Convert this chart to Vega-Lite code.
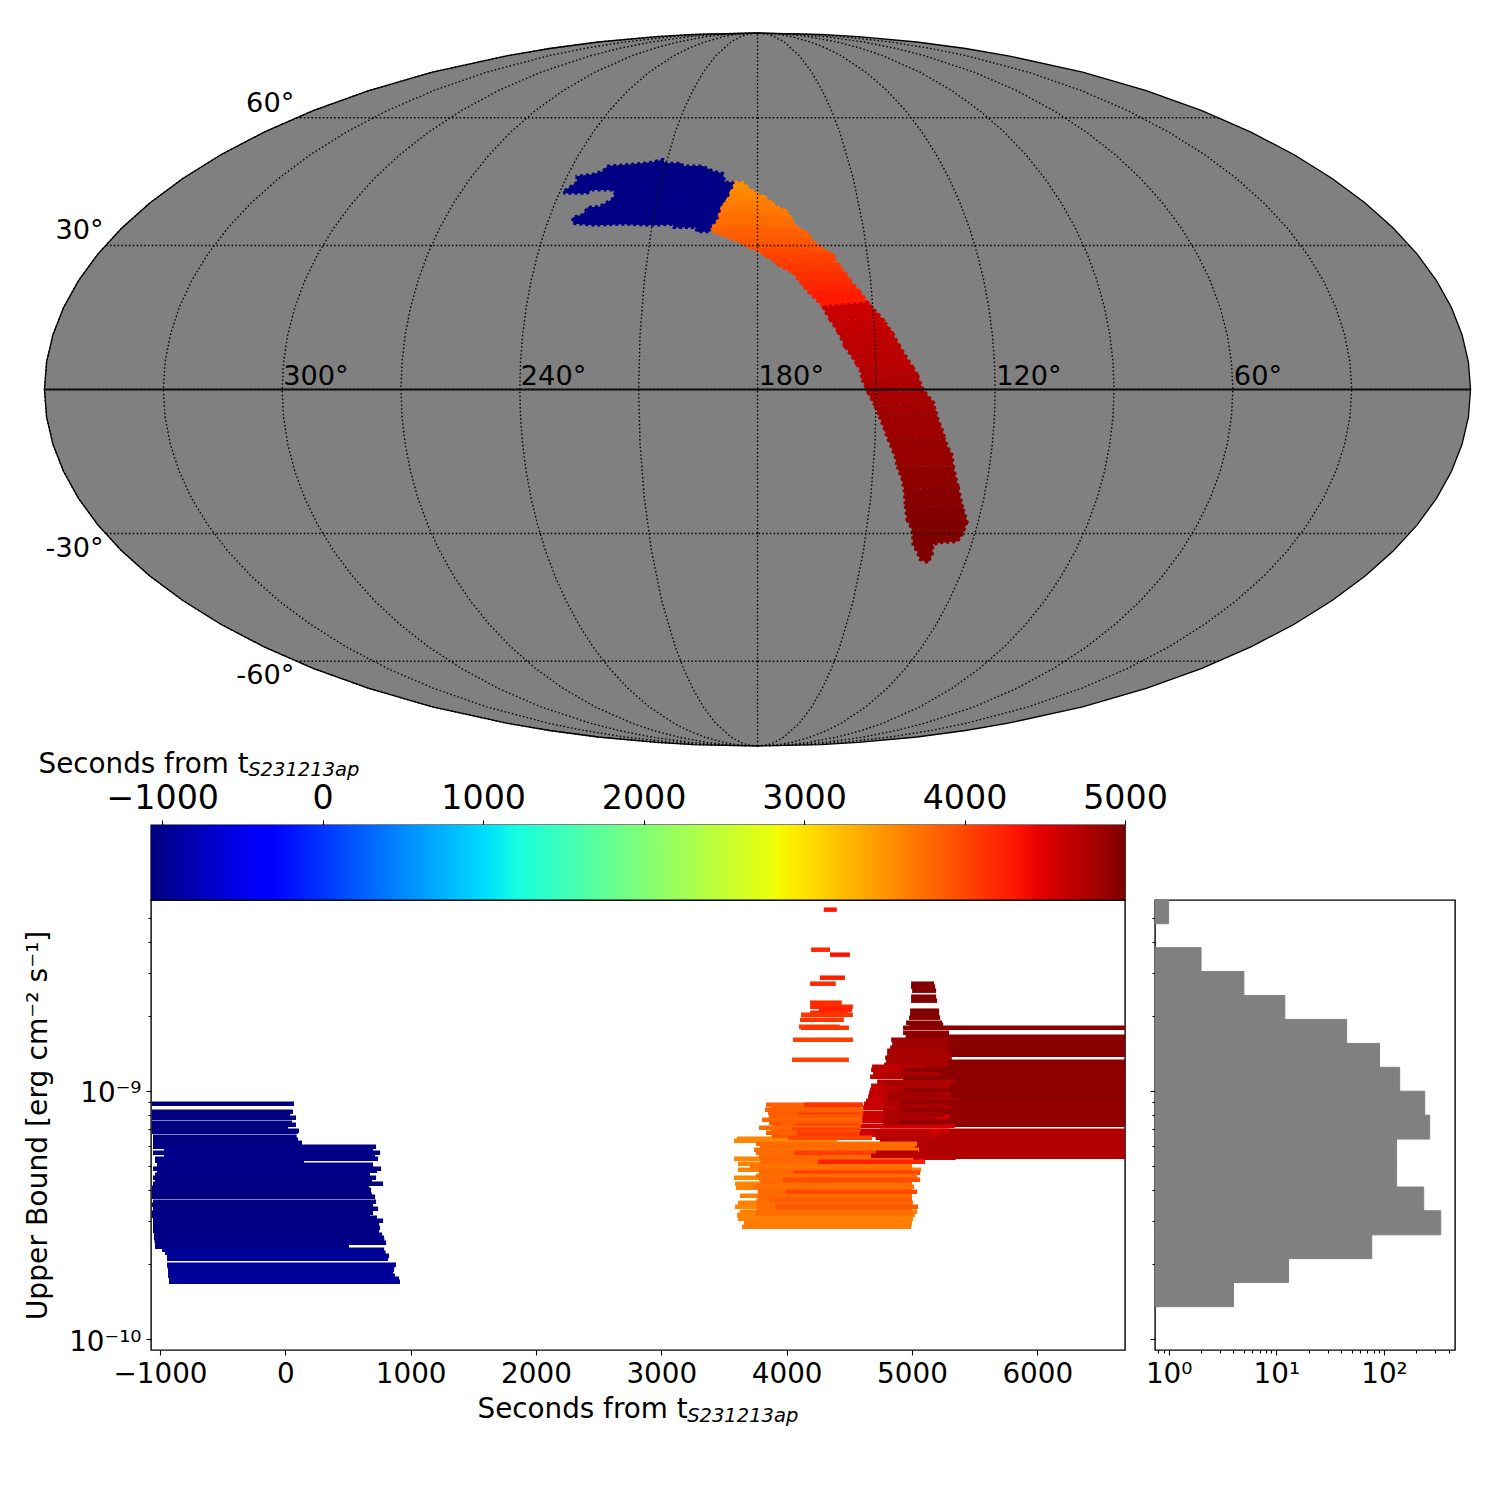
{"$schema":"https://vega.github.io/schema/vega-lite/v6.json","padding":0,"background":"white","bounds":"flush","spacing":0,
"config":{"font":"DejaVu Sans","view":{"stroke":"black","strokeWidth":1.4},"axis":{"grid":false,"domain":false,"tickColor":"black","tickWidth":1.1,"labelColor":"black","titleColor":"black","labelFont":"DejaVu Sans","titleFont":"DejaVu Sans","labelFontSize":27.8,"titleFontSize":27.8,"titleFontWeight":"normal","labelBound":false,"labelFlush":false,"labelOverlap":false,"tickSize":5,"labelPadding":5}},
"vconcat":[
{"width":1500,"height":825,"view":{"stroke":null},
"projection":{"type":"mollweide","scale":252.1,"translate":[757.5,389.5],"rotate":[180,0,0],"reflectX":true},
"layer":[
{"data":{"sphere":true},"mark":{"type":"geoshape","fill":"#808080","stroke":"black","strokeWidth":1.3},"encoding":{}},
{"data":{"values":[
{"type":"Feature","properties":{"seconds":-1050},"geometry":{"type":"Polygon","coordinates":[[[238.8,42.1],[238.3,41.6],[231.6,41.6],[230.4,42.3],[224.0,42.3],[223.0,41.4],[223.4,40.2],[226.4,38.6],[229.8,38.4],[230.6,36.8],[233.2,36.2],[232.7,34.8],[226.2,34.4],[210.6,34.4],[204.1,34.6],[203.7,33.9],[197.4,33.9],[197.1,33.0],[193.4,33.0],[192.9,33.9],[191.3,35.5],[190.4,38.4],[188.8,40.2],[187.0,43.6],[187.3,44.1],[190.1,44.1],[191.0,46.2],[194.2,46.7],[197.7,47.9],[204.2,47.9],[204.7,48.6],[210.2,48.6],[211.2,49.5],[214.6,48.8],[221.6,48.3],[228.5,47.9],[229.4,46.7],[232.1,46.0],[236.9,45.5],[236.0,44.1],[238.8,42.1]]]}},
{"type":"Feature","properties":{"seconds":3545},"geometry":{"type":"Polygon","coordinates":[[[187.0,43.65],[187.9,41.9],[182.3,42.5],[184.5,44.1],[187.0,44.1],[187.0,43.65]]]}},
{"type":"Feature","properties":{"seconds":3585},"geometry":{"type":"Polygon","coordinates":[[[187.9,41.9],[188.8,40.2],[178.35,40.9],[182.3,42.5],[187.9,41.9]]]}},
{"type":"Feature","properties":{"seconds":3615},"geometry":{"type":"Polygon","coordinates":[[[188.8,40.2],[189.6,39.3],[176.3,39.75],[178.35,40.9],[188.8,40.2]]]}},
{"type":"Feature","properties":{"seconds":3650},"geometry":{"type":"Polygon","coordinates":[[[189.6,39.3],[190.4,38.4],[171.39,37.5],[174.26,38.6],[176.3,39.75],[189.6,39.3]]]}},
{"type":"Feature","properties":{"seconds":3690},"geometry":{"type":"Polygon","coordinates":[[[190.4,38.4],[190.9,36.9],[170.4,36.05],[171.39,37.5],[190.4,38.4]]]}},
{"type":"Feature","properties":{"seconds":3750},"geometry":{"type":"Polygon","coordinates":[[[190.9,36.9],[191.3,35.5],[192.9,33.9],[167.98,33.5],[169.33,34.6],[170.4,36.05],[190.9,36.9]]]}},
{"type":"Feature","properties":{"seconds":3795},"geometry":{"type":"Polygon","coordinates":[[[192.9,33.9],[192.53,32.85],[166.07,32.85],[167.98,33.5],[192.9,33.9]]]}},
{"type":"Feature","properties":{"seconds":3850},"geometry":{"type":"Polygon","coordinates":[[[192.53,32.85],[186.82,31.3],[164.83,31.3],[166.07,32.85],[192.53,32.85]]]}},
{"type":"Feature","properties":{"seconds":3895},"geometry":{"type":"Polygon","coordinates":[[[186.82,31.3],[182.07,29.6],[162.5,29.6],[163.54,30.2],[164.83,31.3],[186.82,31.3]]]}},
{"type":"Feature","properties":{"seconds":3945},"geometry":{"type":"Polygon","coordinates":[[[182.07,29.6],[180.41,28.95],[160.19,28.3],[162.5,29.6],[182.07,29.6]]]}},
{"type":"Feature","properties":{"seconds":3995},"geometry":{"type":"Polygon","coordinates":[[[180.41,28.95],[177.41,27.65],[158.9,27.65],[160.19,28.3],[180.41,28.95]]]}},
{"type":"Feature","properties":{"seconds":4045},"geometry":{"type":"Polygon","coordinates":[[[177.41,27.65],[174.47,25.95],[158.28,25.95],[159.05,26.4],[158.9,27.65],[177.41,27.65]]]}},
{"type":"Feature","properties":{"seconds":4090},"geometry":{"type":"Polygon","coordinates":[[[174.47,25.95],[173.94,25.5],[170.5,24.2],[156.7,24.2],[158.28,25.95],[174.47,25.95]]]}},
{"type":"Feature","properties":{"seconds":4150},"geometry":{"type":"Polygon","coordinates":[[[170.5,24.2],[168.75,22.15],[154.98,22.15],[156.7,24.2],[170.5,24.2]]]}},
{"type":"Feature","properties":{"seconds":4215},"geometry":{"type":"Polygon","coordinates":[[[168.75,22.15],[167.98,21.35],[166.7,20.2],[153,20],[154.98,22.15],[168.75,22.15]]]}},
{"type":"Feature","properties":{"seconds":4290},"geometry":{"type":"Polygon","coordinates":[[[166.7,20.2],[165.48,19.15],[163.01,17.05],[151.23,17.9],[153,20],[166.7,20.2]]]}},
{"type":"Feature","properties":{"seconds":4610},"geometry":{"type":"Polygon","coordinates":[[[163.01,17.05],[162.77,16.45],[161.34,14.4],[147.7,14.4],[151.23,17.9],[163.01,17.05]]]}},
{"type":"Feature","properties":{"seconds":4640},"geometry":{"type":"Polygon","coordinates":[[[161.34,14.4],[159.4,11.8],[145.6,11.8],[147.7,14.4],[161.34,14.4]]]}},
{"type":"Feature","properties":{"seconds":4670},"geometry":{"type":"Polygon","coordinates":[[[159.4,11.8],[157.73,8.75],[143.73,8.75],[145.6,11.8],[159.4,11.8]]]}},
{"type":"Feature","properties":{"seconds":4695},"geometry":{"type":"Polygon","coordinates":[[[157.73,8.75],[156.03,6.7],[154.9,5.2],[140.6,4.4],[141.85,6.1],[143.03,7.7],[143.73,8.75],[157.73,8.75]]]}},
{"type":"Feature","properties":{"seconds":4725},"geometry":{"type":"Polygon","coordinates":[[[154.9,5.2],[154.06,4.05],[153.59,2],[139.66,3.05],[140.6,4.4],[154.9,5.2]]]}},
{"type":"Feature","properties":{"seconds":4755},"geometry":{"type":"Polygon","coordinates":[[[153.59,2],[152.1,-0.6],[137.9,-0.3],[138.21,0],[139.66,3.05],[153.59,2]]]}},
{"type":"Feature","properties":{"seconds":4790},"geometry":{"type":"Polygon","coordinates":[[[152.1,-0.6],[150.28,-3.45],[135.63,-2.6],[137.9,-0.3],[152.1,-0.6]]]}},
{"type":"Feature","properties":{"seconds":4820},"geometry":{"type":"Polygon","coordinates":[[[150.28,-3.45],[149.2,-5.5],[134.75,-4.8],[135.63,-2.6],[150.28,-3.45]]]}},
{"type":"Feature","properties":{"seconds":4850},"geometry":{"type":"Polygon","coordinates":[[[149.2,-5.5],[148.11,-7.55],[146.71,-10.2],[132.17,-10.2],[132.77,-8.8],[134.24,-6.1],[134.75,-4.8],[149.2,-5.5]]]}},
{"type":"Feature","properties":{"seconds":4885},"geometry":{"type":"Polygon","coordinates":[[[146.71,-10.2],[144.63,-13.8],[143.87,-15.85],[129.37,-15.85],[130.05,-13.35],[131.49,-11.65],[132.17,-10.2],[146.71,-10.2]]]}},
{"type":"Feature","properties":{"seconds":4925},"geometry":{"type":"Polygon","coordinates":[[[143.87,-15.85],[142.3,-18.5],[141.47,-20.6],[127.37,-20],[129.37,-15.85],[143.87,-15.85]]]}},
{"type":"Feature","properties":{"seconds":4960},"geometry":{"type":"Polygon","coordinates":[[[141.47,-20.6],[140.54,-24.1],[125.3,-24.1],[127.37,-20],[141.47,-20.6]]]}},
{"type":"Feature","properties":{"seconds":4985},"geometry":{"type":"Polygon","coordinates":[[[140.54,-24.1],[139.46,-27],[123.04,-27.4],[125.3,-24.1],[140.54,-24.1]]]}},
{"type":"Feature","properties":{"seconds":5000},"geometry":{"type":"Polygon","coordinates":[[[139.46,-27],[137.48,-29.3],[136.4,-32.4],[134.73,-34],[133.31,-35.7],[130.73,-36.4],[130.27,-34.6],[130.79,-32.4],[128.95,-32],[124.28,-31.75],[123.24,-30],[123.04,-27.4],[139.46,-27]]]}}
]},"mark":{"type":"geoshape","strokeWidth":3,"strokeDash":[3,3]},
"encoding":{"color":{"field":"properties.seconds","type":"quantitative","legend":null,"scale":{"domain":[-1070,-402,-311,994,1054.5,1206,2815,2875,2936,4332,4454,5000],"range":["#000080","#0000ff","#0000ff","#00dbff","#00e6f7","#15ffe2","#eeff08","#f7f600","#ffec00","#ff1300","#e80000","#800000"],"interpolate":"rgb","clamp":true}},
"stroke":{"field":"properties.seconds","type":"quantitative","legend":null,"scale":{"domain":[-1070,-402,-311,994,1054.5,1206,2815,2875,2936,4332,4454,5000],"range":["#000080","#0000ff","#0000ff","#00dbff","#00e6f7","#15ffe2","#eeff08","#f7f600","#ffec00","#ff1300","#e80000","#800000"],"interpolate":"rgb","clamp":true}}}},
{"data":{"graticule":{"step":[30,30],"extent":[[-180,-90],[180,90]]}},"mark":{"type":"geoshape","filled":false,"stroke":"black","strokeWidth":1.4,"strokeDash":[1.5,2.3]},"encoding":{}},
{"data":{"values":[{"type":"Feature","properties":{"name":"equator"},"geometry":{"type":"LineString","coordinates":[[0.01,0],[60,0],[120,0],[180,0],[240,0],[300,0],[359.99,0]]}}]},"mark":{"type":"geoshape","filled":false,"stroke":"#111111","strokeWidth":1.8},"encoding":{}},
{"data":{"values":[{"label":"300°","lon":300,"lat":0},{"label":"240°","lon":240,"lat":0},{"label":"180°","lon":180,"lat":0},{"label":"120°","lon":120,"lat":0},{"label":"60°","lon":60,"lat":0}]},"mark":{"type":"text","align":"left","baseline":"alphabetic","dx":1,"dy":-5,"fontSize":27.2,"font":"DejaVu Sans","color":"black"},"encoding":{"longitude":{"field":"lon","type":"quantitative"},"latitude":{"field":"lat","type":"quantitative"},"text":{"field":"label"}}},
{"data":{"values":[{"label":"60°","lon":359.9,"lat":60},{"label":"30°","lon":359.9,"lat":30}]},"mark":{"type":"text","align":"right","baseline":"middle","dx":-2,"dy":-14,"fontSize":27.2,"font":"DejaVu Sans","color":"black"},"encoding":{"longitude":{"field":"lon","type":"quantitative"},"latitude":{"field":"lat","type":"quantitative"},"text":{"field":"label"}}},
{"data":{"values":[{"label":"-30°","lon":359.9,"lat":-30},{"label":"-60°","lon":359.9,"lat":-60}]},"mark":{"type":"text","align":"right","baseline":"middle","dx":-2,"dy":15,"fontSize":27.2,"font":"DejaVu Sans","color":"black"},"encoding":{"longitude":{"field":"lon","type":"quantitative"},"latitude":{"field":"lat","type":"quantitative"},"text":{"field":"label"}}}
]},
{"bounds":"flush","spacing":0,"hconcat":[
{"width":151,"height":10,"view":{"stroke":null},"data":{"values":[{"a":1}]},"mark":{"type":"rect","opacity":0},"encoding":{}},
{"bounds":"flush","spacing":1004,"hconcat":[
{"bounds":"flush","spacing":0,"vconcat":[
{"width":974,"height":75,
"layer":[
{"data":{"values":[{"low":-1070,"high":5000}]},"mark":{"type":"rect","color":{"gradient":"linear","x1":0,"y1":0,"x2":1,"y2":0,"stops":[{"offset":0,"color":"#000080"},{"offset":0.11,"color":"#0000ff"},{"offset":0.125,"color":"#0000ff"},{"offset":0.34,"color":"#00dbff"},{"offset":0.35,"color":"#00e6f7"},{"offset":0.375,"color":"#15ffe2"},{"offset":0.64,"color":"#eeff08"},{"offset":0.65,"color":"#f7f600"},{"offset":0.66,"color":"#ffec00"},{"offset":0.89,"color":"#ff1300"},{"offset":0.91,"color":"#e80000"},{"offset":1,"color":"#800000"}]}},
"encoding":{"x":{"field":"low","type":"quantitative","scale":{"domain":[-1070,5000],"nice":false,"zero":false},"axis":{"orient":"top","values":[-1000,0,1000,2000,3000,4000,5000],"labelFontSize":33.3,"format":"d","title":"Seconds from t","titleX":-113,"titleY":-53,"titleAlign":"left","titleAnchor":"start","titleBaseline":"alphabetic"}},"x2":{"field":"high"}}},
{"data":{"values":[{"label":"S231213ap","t":-464,"pos":1.66}]},"mark":{"type":"text","align":"left","baseline":"alphabetic","fontStyle":"italic","fontSize":19.5,"font":"DejaVu Sans","color":"black","clip":false},"encoding":{"x":{"field":"t","type":"quantitative"},"y":{"field":"pos","type":"quantitative","scale":{"domain":[0,1],"nice":false,"zero":false},"axis":null},"text":{"field":"label"}}}
]},
{"width":974,"height":450,
"layer":[
{"data":{"values":[
{"start":-1064,"end":69,"ub":8.888e-10},{"start":-1064,"end":61,"ub":8.251e-10},{"start":-1064,"end":38,"ub":8.025e-10},{"start":-1064,"end":85,"ub":7.804e-10},{"start":-1064,"end":53,"ub":7.451e-10},{"start":-1064,"end":85,"ub":7.313e-10},{"start":-1064,"end":22,"ub":7.112e-10},{"start":-1064,"end":109,"ub":6.917e-10},{"start":-1064,"end":100,"ub":6.853e-10},{"start":-1056,"end":90,"ub":6.542e-10},{"start":-1056,"end":77,"ub":6.482e-10},{"start":-1056,"end":101,"ub":6.363e-10},{"start":-1056,"end":133,"ub":6.188e-10},{"start":-1056,"end":724,"ub":5.962e-10},{"start":-968,"end":700,"ub":5.745e-10},{"start":-1056,"end":756,"ub":5.639e-10},{"start":-968,"end":716,"ub":5.434e-10},{"start":-1040,"end":740,"ub":5.333e-10},{"start":-1040,"end":149,"ub":5.235e-10},{"start":-1024,"end":700,"ub":5.045e-10},{"start":-1056,"end":764,"ub":4.861e-10},{"start":-1024,"end":732,"ub":4.771e-10},{"start":-1040,"end":676,"ub":4.597e-10},{"start":-1056,"end":724,"ub":4.471e-10},{"start":-1040,"end":692,"ub":4.348e-10},{"start":-1056,"end":780,"ub":4.228e-10},{"start":-1064,"end":668,"ub":4.074e-10},{"start":-1048,"end":684,"ub":4.000e-10},{"start":-1064,"end":684,"ub":3.926e-10},{"start":-1064,"end":690,"ub":3.818e-10},{"start":-1064,"end":716,"ub":3.748e-10},{"start":-1056,"end":724,"ub":3.578e-10},{"start":-1064,"end":700,"ub":3.479e-10},{"start":-1056,"end":740,"ub":3.353e-10},{"start":-1064,"end":700,"ub":3.230e-10},{"start":-1064,"end":676,"ub":3.142e-10},{"start":-1056,"end":732,"ub":3.084e-10},{"start":-1056,"end":780,"ub":2.999e-10},{"start":-1056,"end":748,"ub":2.890e-10},{"start":-1056,"end":756,"ub":2.810e-10},{"start":-1056,"end":748,"ub":2.733e-10},{"start":-1048,"end":772,"ub":2.633e-10},{"start":-1048,"end":788,"ub":2.561e-10},{"start":-1044,"end":790,"ub":2.491e-10},{"start":-1040,"end":804,"ub":2.445e-10},{"start":-1040,"end":508,"ub":2.356e-10},{"start":-984,"end":788,"ub":2.291e-10},{"start":-960,"end":800,"ub":2.228e-10},{"start":-944,"end":828,"ub":2.167e-10},{"start":-944,"end":820,"ub":2.108e-10},{"start":-944,"end":883,"ub":1.993e-10},{"start":-940,"end":870,"ub":1.957e-10},{"start":-936,"end":867,"ub":1.903e-10},{"start":-936,"end":860,"ub":1.851e-10},{"start":-936,"end":875,"ub":1.800e-10},{"start":-928,"end":907,"ub":1.750e-10},{"start":-928,"end":915,"ub":1.702e-10},
{"start":4929,"end":7000,"ub":1.800e-9},{"start":4929,"end":5296,"ub":1.718e-9},{"start":4950,"end":7000,"ub":1.656e-9},{"start":4950,"end":7000,"ub":1.610e-9},{"start":4950,"end":7000,"ub":1.551e-9},{"start":4950,"end":7000,"ub":1.495e-9},{"start":4950,"end":7000,"ub":1.440e-9},{"start":4950,"end":7000,"ub":1.401e-9},{"start":4930,"end":7000,"ub":1.313e-9},{"start":4930,"end":7000,"ub":1.265e-9},{"start":4930,"end":7000,"ub":1.174e-9},{"start":4930,"end":7000,"ub":1.090e-9},{"start":4930,"end":7000,"ub":1.050e-9},{"start":4930,"end":7000,"ub":9.752e-10},{"start":4930,"end":7000,"ub":9.397e-10},{"start":4900,"end":7000,"ub":8.725e-10},{"start":4900,"end":7000,"ub":8.099e-10},{"start":4900,"end":7000,"ub":7.804e-10},{"start":4900,"end":7000,"ub":7.313e-10},{"start":4745,"end":7000,"ub":6.917e-10},{"start":4745,"end":7000,"ub":6.664e-10},{"start":4745,"end":7000,"ub":6.422e-10},{"start":4745,"end":7000,"ub":6.188e-10},{"start":4745,"end":7000,"ub":5.962e-10},{"start":4745,"end":7000,"ub":5.745e-10},{"start":4745,"end":7000,"ub":5.535e-10},{"start":4745,"end":7000,"ub":5.434e-10},
{"start":4834,"end":5287,"ub":1.610e-9},{"start":4842,"end":5303,"ub":1.551e-9},{"start":4826,"end":5287,"ub":1.495e-9},{"start":4802,"end":5271,"ub":1.454e-9},{"start":4802,"end":5303,"ub":1.401e-9},{"start":4786,"end":5318,"ub":1.362e-9},{"start":4794,"end":5287,"ub":1.313e-9},{"start":4778,"end":5287,"ub":1.277e-9},{"start":4682,"end":5100,"ub":1.253e-9},{"start":4674,"end":4985,"ub":1.219e-9},{"start":4690,"end":5200,"ub":1.185e-9},{"start":4666,"end":5225,"ub":1.142e-9},{"start":4722,"end":5342,"ub":1.090e-9},{"start":4674,"end":5303,"ub":1.050e-9},{"start":4666,"end":5265,"ub":1.012e-9},{"start":4658,"end":5303,"ub":9.843e-10},{"start":4650,"end":5145,"ub":9.484e-10},{"start":4634,"end":5382,"ub":9.139e-10},{"start":4618,"end":5225,"ub":8.888e-10},{"start":4610,"end":5303,"ub":8.564e-10},{"start":4610,"end":5100,"ub":8.175e-10},{"start":4594,"end":5303,"ub":7.877e-10},{"start":4586,"end":5145,"ub":7.589e-10},{"start":4578,"end":5342,"ub":7.246e-10},{"start":4578,"end":5300,"ub":6.917e-10},{"start":4570,"end":5200,"ub":6.664e-10},{"start":4700,"end":5350,"ub":5.383e-10},
{"start":4780,"end":5230,"ub":1.163e-9},{"start":4790,"end":5260,"ub":1.070e-9},{"start":4800,"end":5220,"ub":9.935e-10},{"start":4810,"end":5280,"ub":9.573e-10},{"start":4790,"end":5200,"ub":9.224e-10},{"start":4780,"end":5240,"ub":8.806e-10},{"start":4770,"end":5200,"ub":8.329e-10},{"start":4790,"end":5260,"ub":8.025e-10},{"start":4760,"end":5200,"ub":7.732e-10},{"start":4770,"end":5230,"ub":7.451e-10},{"start":4700,"end":5150,"ub":6.790e-10},{"start":4710,"end":5180,"ub":6.482e-10},
{"start":4930,"end":7000,"ub":1.219e-9},{"start":4930,"end":7000,"ub":1.131e-9},{"start":4930,"end":7000,"ub":1.012e-9},{"start":4900,"end":7000,"ub":9.055e-10},{"start":4900,"end":7000,"ub":8.406e-10},{"start":4900,"end":7000,"ub":7.520e-10},
{"start":4993,"end":5177,"ub":2.708e-9},{"start":4993,"end":5185,"ub":2.634e-9},{"start":5001,"end":5193,"ub":2.538e-9},{"start":4993,"end":5193,"ub":2.400e-9},{"start":4993,"end":5201,"ub":2.313e-9},{"start":4985,"end":5217,"ub":2.108e-9},{"start":4985,"end":5217,"ub":2.031e-9},{"start":4977,"end":5225,"ub":1.975e-9},{"start":4953,"end":5241,"ub":1.885e-9},{"start":4977,"end":5249,"ub":1.851e-9},
{"start":3604,"end":4400,"ub":6.422e-10},{"start":3580,"end":4400,"ub":6.304e-10},{"start":3580,"end":5009,"ub":5.333e-10},{"start":3612,"end":4400,"ub":5.091e-10},{"start":3612,"end":5073,"ub":4.816e-10},{"start":3580,"end":4600,"ub":4.471e-10},{"start":3588,"end":4600,"ub":4.228e-10},{"start":3596,"end":4600,"ub":4.074e-10},{"start":3628,"end":4977,"ub":3.783e-10},{"start":3612,"end":5009,"ub":3.545e-10},{"start":3588,"end":3900,"ub":3.416e-10},{"start":3628,"end":5041,"ub":3.261e-10},{"start":3604,"end":5025,"ub":3.171e-10},
{"start":3880,"end":4600,"ub":8.564e-10},{"start":3880,"end":4600,"ub":8.251e-10},{"start":3880,"end":4600,"ub":7.951e-10},{"start":3880,"end":4600,"ub":7.732e-10},{"start":3880,"end":4600,"ub":7.520e-10},{"start":3880,"end":4590,"ub":7.313e-10},{"start":3880,"end":4590,"ub":7.047e-10},{"start":3880,"end":4580,"ub":6.853e-10},{"start":3880,"end":4580,"ub":6.603e-10},
{"start":3800,"end":5000,"ub":6.018e-10},{"start":3790,"end":5000,"ub":5.692e-10},{"start":3780,"end":5000,"ub":5.434e-10},{"start":3790,"end":5000,"ub":5.235e-10},{"start":3780,"end":5000,"ub":5.045e-10},{"start":3790,"end":5000,"ub":4.861e-10},{"start":3780,"end":5000,"ub":4.727e-10},{"start":3790,"end":5000,"ub":4.597e-10},{"start":3780,"end":5000,"ub":4.429e-10},{"start":3790,"end":5000,"ub":4.308e-10},{"start":3770,"end":5000,"ub":4.151e-10},{"start":3770,"end":5000,"ub":4.000e-10},{"start":3770,"end":5000,"ub":3.854e-10},{"start":3770,"end":5000,"ub":3.713e-10},{"start":3760,"end":5000,"ub":3.611e-10},{"start":3760,"end":5000,"ub":3.479e-10},{"start":3760,"end":5000,"ub":3.353e-10},{"start":3750,"end":5000,"ub":3.230e-10},{"start":3740,"end":5000,"ub":3.113e-10},{"start":3720,"end":5000,"ub":2.999e-10},{"start":3700,"end":4995,"ub":2.890e-10},
{"start":3836,"end":4602,"ub":8.806e-10},{"start":4139,"end":4610,"ub":8.806e-10},{"start":3828,"end":4610,"ub":8.406e-10},{"start":3852,"end":4610,"ub":8.175e-10},{"start":4091,"end":4610,"ub":8.025e-10},{"start":3860,"end":4602,"ub":7.877e-10},{"start":3804,"end":4602,"ub":7.661e-10},{"start":3860,"end":4602,"ub":7.451e-10},{"start":4075,"end":4578,"ub":7.246e-10},{"start":3780,"end":4586,"ub":7.112e-10},{"start":4043,"end":4586,"ub":6.982e-10},{"start":3836,"end":4570,"ub":6.790e-10},{"start":4083,"end":4570,"ub":6.727e-10},{"start":4011,"end":4682,"ub":6.482e-10},{"start":3756,"end":5041,"ub":6.130e-10},{"start":3788,"end":5025,"ub":5.906e-10},{"start":3740,"end":5057,"ub":5.798e-10},{"start":3756,"end":5041,"ub":5.639e-10},{"start":4059,"end":4714,"ub":5.639e-10},{"start":4714,"end":5049,"ub":5.639e-10},{"start":4674,"end":5049,"ub":5.484e-10},{"start":4251,"end":5105,"ub":5.187e-10},{"start":3708,"end":5001,"ub":4.952e-10},{"start":4051,"end":5065,"ub":4.683e-10},{"start":3756,"end":5041,"ub":4.555e-10},{"start":3971,"end":5065,"ub":4.389e-10},{"start":3732,"end":5017,"ub":4.112e-10},{"start":3995,"end":5041,"ub":3.926e-10},{"start":3860,"end":5001,"ub":3.645e-10},{"start":3908,"end":5049,"ub":3.416e-10},{"start":3612,"end":5009,"ub":3.055e-10},{"start":3660,"end":5001,"ub":2.944e-10},{"start":3644,"end":4993,"ub":2.837e-10},
{"start":4296,"end":4400,"ub":5.384e-9},{"start":4195,"end":4346,"ub":3.713e-9},{"start":4346,"end":4505,"ub":3.545e-9},{"start":4265,"end":4465,"ub":2.863e-9},{"start":4187,"end":4392,"ub":2.708e-9},{"start":4187,"end":4440,"ub":2.270e-9},{"start":4187,"end":4529,"ub":2.187e-9},{"start":4258,"end":4521,"ub":2.127e-9},{"start":4187,"end":4489,"ub":2.069e-9},{"start":4115,"end":4529,"ub":2.031e-9},{"start":4107,"end":4457,"ub":1.939e-9},{"start":4099,"end":4424,"ub":1.817e-9},{"start":4115,"end":4497,"ub":1.800e-9},{"start":4051,"end":4529,"ub":1.610e-9},{"start":4043,"end":4497,"ub":1.337e-9}
]},"mark":{"type":"rule","strokeWidth":4.5,"strokeCap":"butt","clip":true},
"encoding":{
"x":{"field":"start","type":"quantitative","scale":{"domain":[-1072,6700],"nice":false,"zero":false},"axis":{"values":[-1000,0,1000,2000,3000,4000,5000,6000],"format":"d","title":"Seconds from t","titleX":326,"titleY":67,"titleAlign":"left","titleAnchor":"start","titleBaseline":"alphabetic"}},
"x2":{"field":"end"},
"y":{"field":"ub","type":"quantitative","scale":{"type":"log","domain":[9.03e-11,5.89e-9],"nice":false},"axis":{"values":[1e-10,2e-10,3e-10,4e-10,5e-10,6e-10,7e-10,8e-10,9e-10,1e-9,2e-9,3e-9,4e-9,5e-9],"labelExpr":"datum.value==1e-9?'10⁻⁹':datum.value==1e-10?'10⁻¹⁰':''","labelOffset":3,"tickSize":{"condition":{"test":"datum.value==1e-9||datum.value==1e-10","value":5},"value":3},"title":"Upper Bound [erg cm⁻² s⁻¹]","titleFontSize":28.2,"titleX":-113,"titleY":225,"titleAngle":-90,"titleAlign":"center","titleBaseline":"middle"}},
"color":{"field":"start","type":"quantitative","legend":null,"scale":{"domain":[-1070,-402,-311,994,1054.5,1206,2815,2875,2936,4332,4454,5000],"range":["#000080","#0000ff","#0000ff","#00dbff","#00e6f7","#15ffe2","#eeff08","#f7f600","#ffec00","#ff1300","#e80000","#800000"],"interpolate":"rgb","clamp":true}}}},
{"data":{"values":[{"label":"S231213ap","t":3206,"pos":4.64e-11}]},"mark":{"type":"text","align":"left","baseline":"alphabetic","fontStyle":"italic","fontSize":19.5,"font":"DejaVu Sans","color":"black","clip":false},"encoding":{"x":{"field":"t","type":"quantitative"},"y":{"field":"pos","type":"quantitative"},"text":{"field":"label"}}}
]}
]},
{"bounds":"flush","spacing":0,"vconcat":[
{"width":300,"height":75,"view":{"stroke":null},"data":{"values":[{"a":1}]},"mark":{"type":"rect","opacity":0},"encoding":{}},
{"width":300,"height":450,
"data":{"values":[
{"low":4.727e-9,"high":5.903e-9,"count":1},{"low":3.031e-9,"high":3.785e-9,"count":2},{"low":2.427e-9,"high":3.031e-9,"count":5},{"low":1.944e-9,"high":2.427e-9,"count":12},{"low":1.556e-9,"high":1.944e-9,"count":45},{"low":1.246e-9,"high":1.556e-9,"count":91},{"low":9.98e-10,"high":1.246e-9,"count":140},{"low":7.99e-10,"high":9.98e-10,"count":239},{"low":6.40e-10,"high":7.99e-10,"count":266},{"low":5.12e-10,"high":6.40e-10,"count":131},{"low":4.10e-10,"high":5.12e-10,"count":131},{"low":3.29e-10,"high":4.10e-10,"count":234},{"low":2.63e-10,"high":3.29e-10,"count":337},{"low":2.11e-10,"high":2.63e-10,"count":77},{"low":1.69e-10,"high":2.11e-10,"count":13},{"low":1.35e-10,"high":1.69e-10,"count":4}
]},
"mark":{"type":"rect","fill":"#808080","stroke":"#808080","strokeWidth":1,"clip":true},
"encoding":{
"x":{"field":"count","type":"quantitative","scale":{"type":"log","domain":[0.747,457],"nice":false},"axis":{"values":[0.8,0.9,1,2,3,4,5,6,7,8,9,10,20,30,40,50,60,70,80,90,100,200,300,400],"labelExpr":"datum.value==1?'10⁰':datum.value==10?'10¹':datum.value==100?'10²':''","tickSize":{"condition":{"test":"datum.value==1||datum.value==10||datum.value==100","value":5},"value":3},"title":null}},
"x2":{"datum":0.747},
"y":{"field":"low","type":"quantitative","scale":{"type":"log","domain":[9.03e-11,5.89e-9],"nice":false},"axis":{"values":[1e-10,2e-10,3e-10,4e-10,5e-10,6e-10,7e-10,8e-10,9e-10,1e-9,2e-9,3e-9,4e-9,5e-9],"labelExpr":"''","tickSize":{"condition":{"test":"datum.value==1e-9||datum.value==1e-10","value":5},"value":3},"title":null}},
"y2":{"field":"high"}}}
]}
]}
]}
]}
